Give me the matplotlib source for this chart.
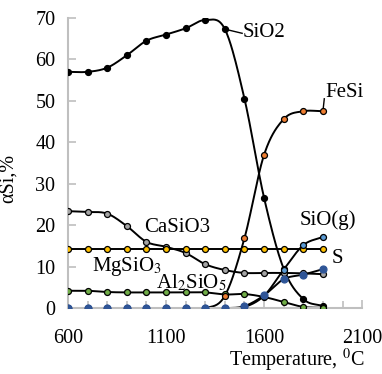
import numpy as np
import matplotlib
matplotlib.use("Agg")
import matplotlib.pyplot as plt

plt.rcParams['font.family'] = ['Liberation Serif', 'DejaVu Serif']
plt.rcParams['mathtext.fontset'] = 'stix'

temperature = [600, 700, 800, 900, 1000, 1100, 1200, 1300, 1400, 1500, 1600, 1700, 1800, 1900]
sio2 = [57.0, 57.0, 58.0, 61.0, 64.5, 66.0, 67.5, 69.5, 67.3, 50.5, 26.6, 9.5, 2.2, 0.5]
fesi = [0, 0, 0, 0, 0, 0, 0, 0, 3.0, 16.9, 37.0, 45.6, 47.5, 47.5]
casio3 = [23.4, 23.2, 22.8, 19.8, 16.0, 14.8, 13.3, 10.6, 9.2, 8.5, 8.5, 8.5, 8.4, 8.2]
mgsio3 = [14.3] * 14
al2sio5 = [4.2, 4.2, 3.9, 3.8, 3.8, 3.8, 3.8, 3.8, 3.3, 3.4, 2.7, 1.5, 0.3, 0.1]
sio_g = [0, 0, 0, 0, 0, 0, 0, 0, 0, 0.3, 3.0, 9.3, 15.2, 17.2]
s_phase = [0, 0, 0, 0, 0, 0, 0, 0, 0, 0.5, 3.1, 7.0, 8.1, 9.4]

x_ticks = [600, 1100, 1600, 2100]
y_ticks = [0, 10, 20, 30, 40, 50, 60, 70]


def smooth(x, y, n=20):
    x = np.asarray(x, float)
    y = np.asarray(y, float)
    P = np.column_stack([x, y])
    P = np.vstack([P[0] - (P[1] - P[0]), P, P[-1] + (P[-1] - P[-2])])
    out = []
    t = np.linspace(0, 1, n, endpoint=False)
    for i in range(1, len(P) - 2):
        p0, p1, p2, p3 = P[i - 1], P[i], P[i + 1], P[i + 2]
        m1 = (p2 - p0) / 2
        m2 = (p3 - p1) / 2
        h00 = 2 * t**3 - 3 * t**2 + 1
        h10 = t**3 - 2 * t**2 + t
        h01 = -2 * t**3 + 3 * t**2
        h11 = t**3 - t**2
        seg = (h00[:, None] * p1 + h10[:, None] * m1 + h01[:, None] * p2 + h11[:, None] * m2)
        out.append(seg)
    out.append(P[-2][None, :])
    out = np.vstack(out)
    return out[:, 0], out[:, 1]


fig = plt.figure(figsize=(3.82, 3.74), dpi=100)
ax = fig.add_axes([0.178, 0.176, 0.770, 0.776])

series = [
    (sio2, '#000000', '#000000', 4.3),
    (casio3, '#A5A5A5', '#000000', 4.3),
    (mgsio3, '#FFC000', '#000000', 4.3),
    (al2sio5, '#70AD47', '#000000', 4.3),
    (fesi, '#ED7D31', '#000000', 4.3),
    (sio_g, '#5B9BD5', '#000000', 4.3),
    (s_phase, '#2F5597', '#2F5597', 5.0),
]
for ys, fc, ec, ms in series:
    sx, sy = smooth(temperature, ys)
    ax.plot(sx, sy, color='black', lw=1.4, zorder=2)
for ys, fc, ec, ms in series:
    ax.plot(temperature, ys, ls='none', marker='o', ms=ms, mfc=fc, mec=ec,
            mew=0.9, zorder=3)

ax.set_xlim(600, 2100)
ax.set_ylim(0, 70)
ax.set_xticks(x_ticks)
ax.set_xticks(range(600, 2101, 100), minor=True)
ax.set_yticks(y_ticks)
fs = 14.5
ax.tick_params(axis='both', which='both', direction='in', color='#BFBFBF',
               labelsize=fs, width=1.2)
ax.tick_params(axis='both', which='major', length=6)
ax.tick_params(axis='x', which='minor', length=5)
ax.tick_params(axis='x', pad=15)
ax.tick_params(axis='y', pad=9)
for sp in ['top', 'right']:
    ax.spines[sp].set_visible(False)
for sp in ['left', 'bottom']:
    ax.spines[sp].set_color('#BFBFBF')
    ax.spines[sp].set_linewidth(1.5)

ax.set_xlabel('Temperature, $^{0}$C', fontsize=fs)
ax.xaxis.set_label_coords(0.776, -0.135)
ax.set_ylabel('αSi,%', fontsize=fs)
ax.yaxis.set_label_coords(-0.17, 0.448)

fl = 15
ax.plot([1400, 1488], [67.3, 66.3], color='black', lw=1)
ax.text(1493, 66.6, 'SiO2', fontsize=fl, va='center', ha='left')
ax.plot([1900, 1907], [47.5, 50.5], color='black', lw=1)
ax.text(1915, 52.0, 'FeSi', fontsize=fl, va='center', ha='left')
ax.text(990, 19.4, 'CaSiO3', fontsize=fl, va='center', ha='left')
ax.text(722, 10.0, 'MgSiO$_3$', fontsize=fl, va='center', ha='left')
ax.text(1050, 6.0, 'Al$_2$SiO$_5$', fontsize=fl, va='center', ha='left')
ax.text(1780, 21.2, 'SiO(g)', fontsize=fl, va='center', ha='left')
ax.text(1945, 12.0, 'S', fontsize=fl, va='center', ha='left')

fig.savefig('out.png', dpi=100)
